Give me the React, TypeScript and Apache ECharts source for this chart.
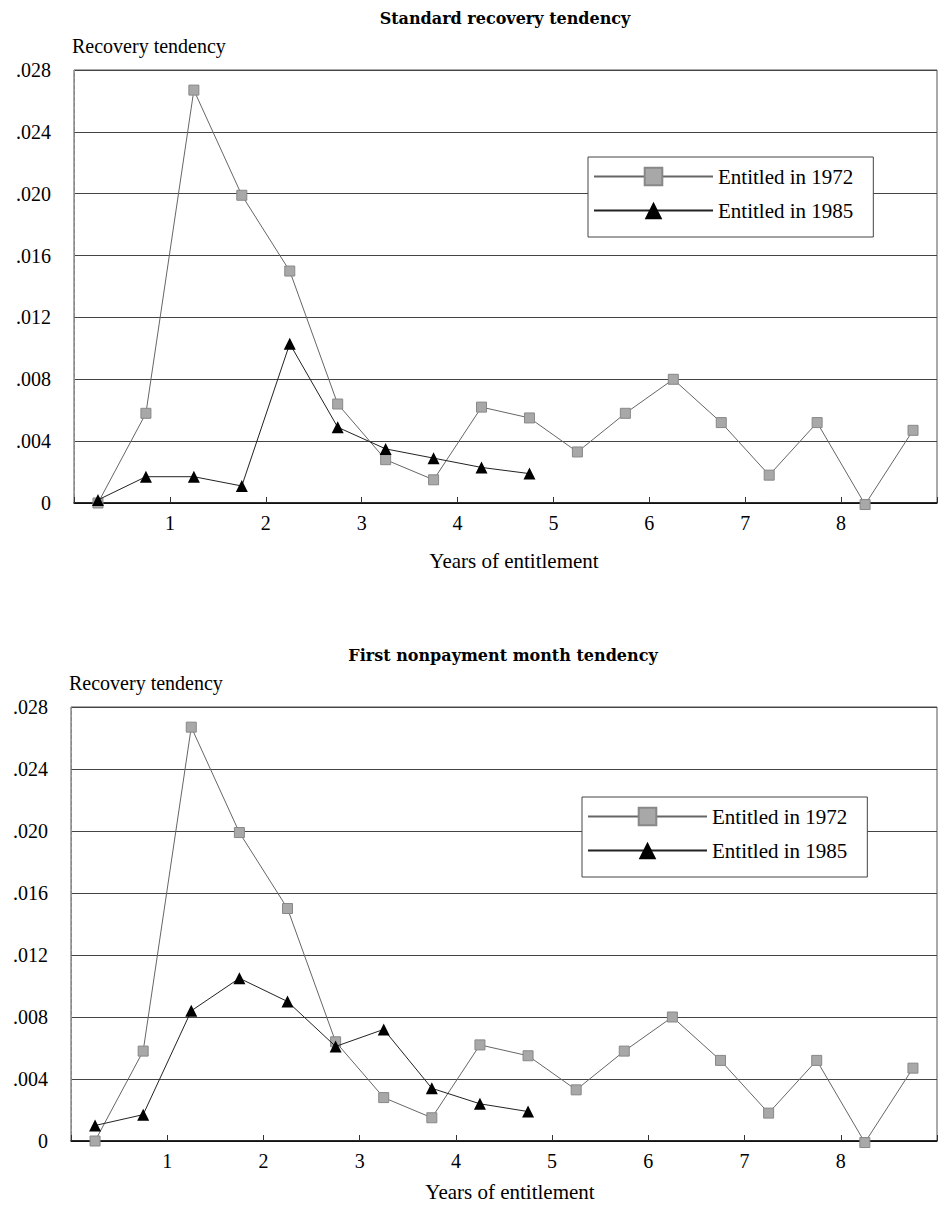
import React, { useEffect, useRef } from "react";
import * as echarts from "echarts";

const years = [0.25, 0.75, 1.25, 1.75, 2.25, 2.75, 3.25, 3.75, 4.25, 4.75, 5.25, 5.75, 6.25, 6.75, 7.25, 7.75, 8.25, 8.75];
const entitled1972 = [0.0, 0.0058, 0.0267, 0.0199, 0.015, 0.0064, 0.0028, 0.0015, 0.0062, 0.0055, 0.0033, 0.0058, 0.0080, 0.0052, 0.0018, 0.0052, -0.0001, 0.0047];
const standard1985 = [0.0002, 0.0017, 0.0017, 0.0011, 0.0103, 0.0049, 0.0035, 0.0029, 0.0023, 0.0019];
const firstNonpay1985 = [0.001, 0.0017, 0.0084, 0.0105, 0.009, 0.0061, 0.0072, 0.0034, 0.0024, 0.0019];
const yTicks = [0, 0.004, 0.008, 0.012, 0.016, 0.02, 0.024, 0.028];
const xTickLabels = ["1", "2", "3", "4", "5", "6", "7", "8"];
const titles = ["Standard recovery tendency", "First nonpayment month tendency"];
const seriesNames = ["Entitled in 1972", "Entitled in 1985"];

const SERIF = "'Liberation Serif', 'Times New Roman', serif";

export default function App() {
  const ref = useRef<HTMLDivElement>(null);
  useEffect(() => {
    document.body.style.margin = "0";
    const chart = echarts.init(ref.current!, null, { renderer: "svg" });
    const pair = (ys: number[]) => ys.map((v, i) => [years[i], v]);
    const grids = [
      { left: 74, right: 10, top: 70, height: 433 },
      { left: 71, right: 10, top: 707, height: 434 },
    ];
    const xAxes = grids.map((_, i) => ({
      type: "value",
      gridIndex: i,
      min: 0,
      max: 9,
      interval: 1,
      axisLine: { show: true, onZero: false, lineStyle: { color: "#000", width: 1.5 } },
      axisTick: { show: true, inside: true, length: 6, lineStyle: { color: "#333" } },
      splitLine: { show: false },
      axisLabel: {
        margin: 10,
        color: "#000",
        fontFamily: SERIF,
        fontSize: 20,
        formatter: (v: number) => (v >= 1 && v <= 8 ? xTickLabels[v - 1] : ""),
      },
    }));
    const yAxes = grids.map((_, i) => ({
      type: "value",
      gridIndex: i,
      min: 0,
      max: yTicks[yTicks.length - 1],
      interval: 0.004,
      axisLine: { show: true, lineStyle: { color: "#888", width: 1, type: "dashed" } },
      axisTick: { show: false },
      splitLine: { show: true, lineStyle: { color: "#444", width: 1 } },
      axisLabel: {
        margin: 23,
        color: "#000",
        fontFamily: SERIF,
        fontSize: 20,
        formatter: (v: number) => (Math.abs(v) < 1e-9 ? "0" : v.toFixed(3).replace(/^0/, "")),
      },
    }));
    const mk1972 = (i: number) => ({
      name: seriesNames[0],
      type: "line",
      xAxisIndex: i,
      yAxisIndex: i,
      data: pair(entitled1972),
      clip: false,
      symbol: "rect",
      symbolSize: 10,
      lineStyle: { color: "#666", width: 1 },
      itemStyle: { color: "#a8a8a8", borderColor: "#888", borderWidth: 1 },
      z: 3,
    });
    const mk1985 = (i: number, ys: number[]) => ({
      name: seriesNames[1],
      type: "line",
      xAxisIndex: i,
      yAxisIndex: i,
      data: pair(ys),
      clip: false,
      symbol: "triangle",
      symbolSize: 12,
      lineStyle: { color: "#222", width: 1 },
      itemStyle: { color: "#000" },
      z: 4,
    });
    const legendBase = {
      orient: "vertical",
      data: seriesNames,
      itemWidth: 119,
      itemHeight: 22,
      itemGap: 13,
      padding: [9, 20, 16, 5],
      backgroundColor: "#fff",
      borderColor: "#444",
      borderWidth: 1,
      textStyle: { fontFamily: SERIF, fontSize: 21, color: "#000" },
      selectedMode: false,
    };
    const titleFont = { fontFamily: "'DejaVu Serif', serif", fontWeight: "bold", fontSize: 16, color: "#000" };
    const textFont = { fontFamily: SERIF, fontSize: 20, fontWeight: "normal", color: "#000" };
    const option: any = {
      animation: false,
      backgroundColor: "#fff",
      title: [
        { text: titles[0], left: 505, top: 10, padding: 0, textAlign: "center", textStyle: titleFont },
        { text: titles[1], left: 503, top: 647, padding: 0, textAlign: "center", textStyle: titleFont },
        { text: "Recovery tendency", left: 72, top: 36, padding: 0, textStyle: textFont },
        { text: "Recovery tendency", left: 69, top: 673, padding: 0, textStyle: textFont },
        { text: "Years of entitlement", left: 514, top: 550, padding: 0, textAlign: "center", textStyle: { ...textFont, fontSize: 21 } },
        { text: "Years of entitlement", left: 510, top: 1181, padding: 0, textAlign: "center", textStyle: { ...textFont, fontSize: 21 } },
      ],
      grid: grids.map((g) => ({ ...g, show: true, borderColor: "#555", borderWidth: 1, backgroundColor: "transparent" })),
      xAxis: xAxes,
      yAxis: yAxes,
      legend: [
        { ...legendBase, left: 588, top: 157 },
        { ...legendBase, left: 582, top: 797 },
      ],
      series: [mk1972(0), mk1985(0, standard1985), mk1972(1), mk1985(1, firstNonpay1985)],
    };
    chart.setOption(option);
    return () => chart.dispose();
  }, []);
  return <div ref={ref} style={{ width: 947, height: 1206 }} />;
}
